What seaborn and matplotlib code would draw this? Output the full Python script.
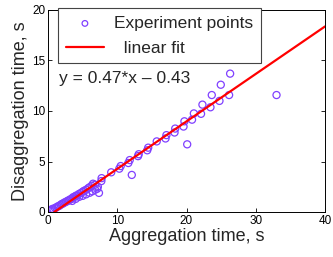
import matplotlib
matplotlib.use("Agg")
import matplotlib.pyplot as plt
import seaborn as sns
import numpy as np
import pandas as pd

# Experimental points (aggregation time, disaggregation time)
agg_time = [0.3, 0.5, 0.6, 0.8, 1.0, 1.2, 1.4, 1.6, 1.8, 2.0, 2.2, 2.4, 2.6, 2.8,
            3.0, 3.2, 3.4, 3.6, 3.8, 4.0, 4.2, 4.5, 4.8, 5.0, 5.2, 5.5, 5.8, 6.0,
            6.3, 6.5, 6.8,
            3.5, 4.0, 4.5, 5.0, 5.5, 6.0, 6.4, 6.8, 7.1, 7.36, 7.2,
            7.7, 7.74, 9.13, 10.3, 10.5, 11.6, 11.8, 12.1, 13.0, 13.1, 14.33,
            14.47, 15.7, 16.97, 17.1, 18.27, 18.37, 19.57, 19.7, 20.1, 20.8,
            21.06, 22.1, 22.3, 23.46, 23.65, 24.76, 24.95, 26.15, 26.3, 33.0]
disagg_time = [0.15, 0.2, 0.3, 0.25, 0.4, 0.45, 0.55, 0.6, 0.7, 0.8, 0.85, 0.95, 1.0, 1.1,
               1.15, 1.25, 1.3, 1.45, 1.5, 1.6, 1.65, 1.8, 1.9, 2.0, 2.1, 2.2, 2.35, 2.45,
               2.6, 2.8, 2.7,
               1.1, 1.3, 1.5, 1.6, 1.75, 1.9, 2.05, 2.2, 2.3, 1.89, 2.5,
               3.06, 3.35, 3.93, 4.29, 4.55, 4.85, 5.14, 3.67, 5.53, 5.72, 6.11,
               6.37, 6.99, 7.28, 7.61, 7.87, 8.26, 8.46, 8.98, 6.7, 9.14,
               9.76, 9.72, 10.63, 10.37, 11.58, 11.0, 12.6, 11.58, 13.7, 11.58]

fit_slope = 0.47
fit_intercept = -0.43
fit_x_range = [0.9, 40]

x_ticks = [0, 10, 20, 30, 40]
y_ticks = [0, 5, 10, 15, 20]

sns.set_style("white")
plt.rcParams['font.family'] = ['Liberation Sans', 'DejaVu Sans']

fig = plt.figure(figsize=(3.33, 2.57), dpi=100)
ax = fig.add_axes([48/333, 1 - 212/257, (325 - 48)/333, (212 - 10)/257])

pts = pd.DataFrame({"x": agg_time, "y": disagg_time})
sns.scatterplot(data=pts, x="x", y="y", ax=ax, marker="o", s=26,
                facecolors="none", edgecolor="#8040ff", linewidth=0.9,
                label="Experiment points", zorder=2)

fx = np.array(fit_x_range)
fit = pd.DataFrame({"x": fx, "y": fit_slope * fx + fit_intercept})
sns.lineplot(data=fit, x="x", y="y", ax=ax, color="#ff0000", linewidth=1.6,
             label="  linear fit", zorder=3)

ax.set_xlim(0, 40)
ax.set_ylim(0, 20)
ax.set_xticks(x_ticks)
ax.set_yticks(y_ticks)
ax.tick_params(direction="in", length=3, width=0.6, top=True, right=True,
               bottom=True, left=True, labelsize=8.5, colors="black", pad=2)
for sp in ax.spines.values():
    sp.set_color("black")
    sp.set_linewidth(0.7)
ax.set_xlabel("Aggregation time, s", fontsize=13, labelpad=1)
ax.set_ylabel("Disaggregation time, s", fontsize=13, labelpad=2)

ax.text(1.6, 13.2, "y = 0.47*x \u2013 0.43", fontsize=12.5, va="center", ha="left")

leg = ax.legend(loc="upper left", bbox_to_anchor=(58/333, 1 - 8/257),
                bbox_transform=fig.transFigure, borderaxespad=0,
                fontsize=12.5, frameon=True, fancybox=False, framealpha=1,
                edgecolor="#444444", handlelength=2.2, handletextpad=0.6,
                borderpad=0.45, labelspacing=0.55, markerscale=0.8)
leg.get_frame().set_linewidth(0.8)

fig.savefig("out.png", dpi=100)
